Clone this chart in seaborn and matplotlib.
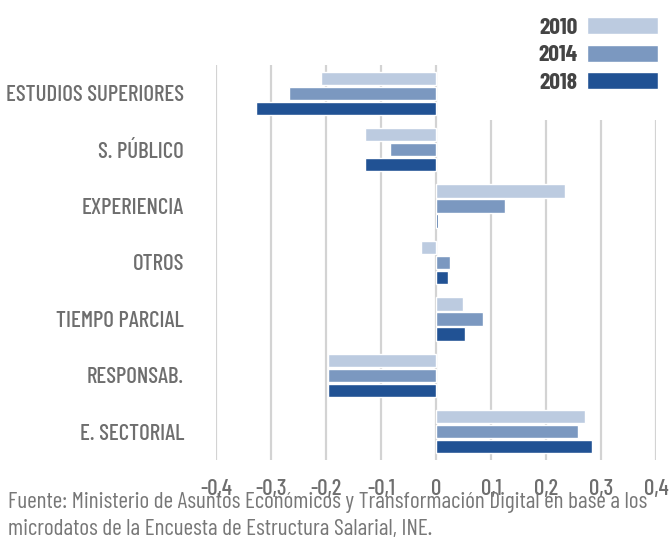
import matplotlib
matplotlib.use("Agg")
import matplotlib.pyplot as plt
import matplotlib.ticker as mticker
from matplotlib.patches import Rectangle
import seaborn as sns
import pandas as pd
from matplotlib import font_manager

# categories and values
categorias = ["ESTUDIOS SUPERIORES", "S. PÚBLICO", "EXPERIENCIA", "OTROS",
              "TIEMPO PARCIAL", "RESPONSAB.", "E. SECTORIAL"]
anios = ["2010", "2014", "2018"]
v2010 = [-0.210, -0.129, 0.234, -0.027, 0.049, -0.196, 0.270]
v2014 = [-0.268, -0.083, 0.125, 0.025, 0.085, -0.196, 0.259]
v2018 = [-0.328, -0.129, 0.004, 0.022, 0.053, -0.196, 0.283]
colores = ["#BCCBE0", "#7B98C0", "#215294"]
xticks = [-0.4, -0.3, -0.2, -0.1, 0, 0.1, 0.2, 0.3, 0.4]
fuente = ("Fuente: Ministerio de Asuntos Económicos y Transformación Digital en base a los\n"
          "microdatos de la Encuesta de Estructura Salarial, INE.")

rows = []
for serie, anio in zip([v2010, v2014, v2018], anios):
    for cat, v in zip(categorias, serie):
        rows.append({"categoria": cat, "anio": anio, "valor": v})
df = pd.DataFrame(rows)

sns.set_style("white")
available = {f.name for f in font_manager.fontManager.ttflist}
fams = [f for f in ["Barlow Condensed", "Archivo Narrow", "Liberation Sans Narrow"] if f in available]
plt.rcParams["font.family"] = fams[:1] + ["DejaVu Sans"]
plt.rcParams["font.weight"] = 500
txt = "#6e6e6e"

W, H = 669, 543
fig = plt.figure(figsize=(W / 100, H / 100), dpi=100)
ax = fig.add_axes([216 / W, 1 - 460 / H, 440 / W, 395 / H])

sns.barplot(data=df, y="categoria", x="valor", hue="anio", order=categorias,
            hue_order=anios, palette=colores, orient="h", width=0.8, gap=0.12,
            ax=ax, saturation=1)

ax.set_xlim(-0.4, 0.4)
ax.set_xticks(xticks)
ax.xaxis.set_major_formatter(mticker.FuncFormatter(
    lambda x, p: "0" if abs(x) < 1e-9 else f"{x:.1f}".replace(".", ",")))
ax.grid(axis="x", color="#d3d3d3", lw=1.6, zorder=0)
ax.set_axisbelow(True)
for s in ax.spines.values():
    s.set_visible(False)
ax.tick_params(axis="both", length=0, labelcolor=txt, labelsize=16.5)
ax.tick_params(axis="x", pad=14)
ax.tick_params(axis="y", pad=23)
ax.set_xlabel("")
ax.set_ylabel("")

# white legend area hides the top of the gridlines on the right
fig.patches.append(Rectangle((462 / W, 1 - 120 / H), 1, 120 / H, transform=fig.transFigure,
                             facecolor="white", edgecolor="none", zorder=1))

handles, labels = ax.get_legend_handles_labels()
ax.get_legend().remove()
leg = fig.legend(handles, labels, loc="upper right", bbox_to_anchor=(691 / W, 559 / H),
                 markerfirst=False, frameon=False,
                 handlelength=3.0, handleheight=0.75, handletextpad=0.4,
                 labelspacing=0.28, borderpad=0.9,
                 prop={"weight": "bold", "size": 17})
for t in leg.get_texts():
    t.set_color("#444444")
leg.set_zorder(2)

fig.text(8 / W, 1 - 540 / H, fuente, ha="left", va="bottom", fontsize=16.8,
         fontweight="normal", color="#777777", linespacing=1.35)

fig.savefig("out.png", dpi=100)
